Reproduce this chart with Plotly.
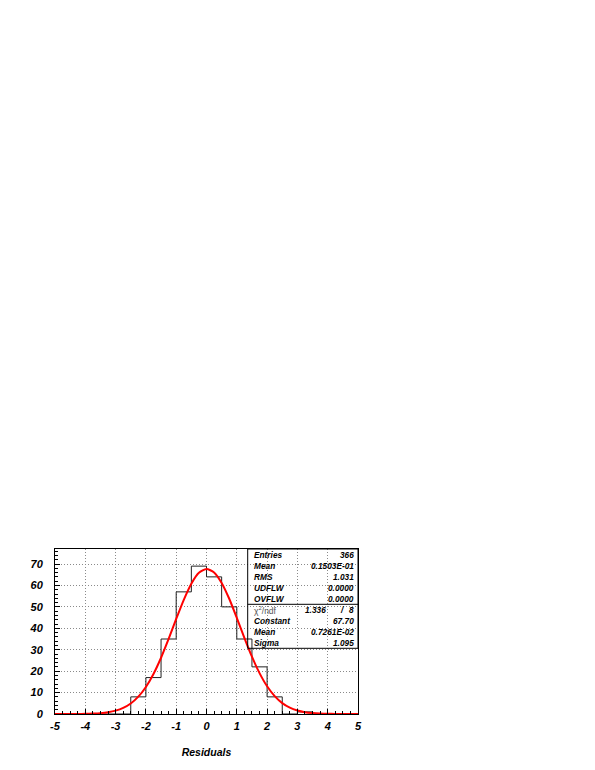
import plotly.graph_objects as go

# ---- data ----
bin_edges = [-5.0, -4.5, -4.0, -3.5, -3.0, -2.5, -2.0, -1.5, -1.0, -0.5, 0.0,
             0.5, 1.0, 1.5, 2.0, 2.5, 3.0, 3.5, 4.0, 4.5, 5.0]
bin_counts = [0, 0, 0, 0, 0, 8, 17, 35, 57, 69, 64, 50, 35, 22, 8, 0, 1, 0, 0, 0]

fit_x = [-5.0, -4.75, -4.5, -4.25, -4.0, -3.75, -3.5, -3.25, -3.0, -2.75, -2.5,
         -2.25, -2.0, -1.75, -1.5, -1.25, -1.0, -0.75, -0.5, -0.25, 0.0,
         0.25, 0.5, 0.75, 1.0, 1.25, 1.5, 1.75, 2.0, 2.25, 2.5,
         2.75, 3.0, 3.25, 3.5, 3.75, 4.0, 4.25, 4.5, 4.75, 5.0]
fit_y = [0.002, 0.005, 0.014, 0.035, 0.085, 0.19, 0.40, 0.81, 1.56, 2.84, 4.92,
         8.09, 12.61, 18.68, 26.25, 35.02, 44.35, 53.30, 60.81, 65.86, 67.69,
         66.06, 61.18, 53.79, 44.89, 35.56, 26.73, 19.08, 12.92, 8.32, 5.07,
         2.94, 1.62, 0.84, 0.42, 0.20, 0.088, 0.036, 0.014, 0.005, 0.002]

x_tickvals = [-5, -4, -3, -2, -1, 0, 1, 2, 3, 4, 5]
x_ticktext = ["-5", "-4", "-3", "-2", "-1", "0", "1", "2", "3", "4", "5"]
y_tickvals = [0, 10, 20, 30, 40, 50, 60, 70]
y_ticktext = ["0", "10", "20", "30", "40", "50", "60", "70"]

stat_labels = ["Entries", "Mean", "RMS", "UDFLW", "OVFLW"]
stat_values = ["366", "0.1503E-01", "1.031", "0.0000", "0.0000"]
chi2_label = "χ<sup>2</sup>/ndf"
chi2_value = "1.336"
ndf_value = "8"
fit_labels = ["Constant", "Mean", "Sigma"]
fit_values = ["67.70", "0.7261E-02", "1.095"]

x_title = "Residuals"

# ---- figure ----
FONT = "Liberation Sans"
fig = go.Figure()

fig.add_trace(go.Scatter(
    x=bin_edges, y=bin_counts + [bin_counts[-1]],
    mode="lines", line=dict(color="#222222", width=1, shape="hv"),
    showlegend=False, hoverinfo="skip"))

fig.add_trace(go.Scatter(
    x=fit_x, y=fit_y, mode="lines",
    line=dict(color="#ff0000", width=2, shape="spline", smoothing=0.6),
    showlegend=False, hoverinfo="skip"))

tickfont = dict(family=FONT, size=11, color="black", weight="bold", style="italic")
GRID = dict(showgrid=True, gridcolor="#8a8a8a", griddash="1px,2px", gridwidth=1)

fig.update_xaxes(
    range=[-5, 5], tickmode="array", tickvals=x_tickvals, ticktext=x_ticktext,
    showline=True, linecolor="black", linewidth=1, mirror=True,
    ticks="inside", ticklen=5, tickcolor="black",
    minor=dict(dtick=0.25, tick0=-5, ticks="inside", ticklen=3, tickcolor="black", showgrid=False),
    zeroline=False, tickfont=tickfont, ticklabelstandoff=2, automargin=False,
    title=dict(text=x_title, font=dict(family=FONT, size=10.5, color="black",
                                      weight="bold", style="italic"), standoff=17),
    **GRID,
)
fig.update_yaxes(
    range=[0, 77], tickmode="array", tickvals=y_tickvals, ticktext=y_ticktext,
    showline=True, linecolor="black", linewidth=1, mirror=True,
    ticks="inside", ticklen=5, tickcolor="black",
    minor=dict(dtick=2, tick0=0, ticks="inside", ticklen=3, tickcolor="black", showgrid=False),
    zeroline=False, tickfont=tickfont, ticklabelstandoff=9, automargin=False,
    **GRID,
)

# ---- stats box (pixel positions measured on the page, page has 8px body offset) ----
OFF = 8
L, T, H, W = 55 - OFF, 549 - OFF, 165, 303
def px(x):
    return (x - 55) / W
def py(y):
    return (549 + H - y) / H

box_x0, box_y1, box_y0, sep_y = px(247.7), py(549), py(648.3), py(604.3)
fig.add_shape(type="rect", xref="paper", yref="paper", x0=box_x0, x1=1, y0=box_y0, y1=box_y1,
              line=dict(color="black", width=1), fillcolor="rgba(0,0,0,0)")
fig.add_shape(type="line", xref="paper", yref="paper", x0=box_x0, x1=1, y0=sep_y, y1=sep_y,
              line=dict(color="black", width=1))

sfont = dict(family=FONT, size=8.3, color="black", weight="bold", style="italic")
row_y0, row_dy = 555.3, 11.0
lab_x, val_x = px(251.7), px(355.5)

for i, (lab, val) in enumerate(zip(stat_labels, stat_values)):
    yy = py(row_y0 + i * row_dy)
    fig.add_annotation(xref="paper", yref="paper", x=lab_x, y=yy, text=lab, showarrow=False,
                       xanchor="left", yanchor="middle", font=sfont)
    fig.add_annotation(xref="paper", yref="paper", x=val_x, y=yy, text=val, showarrow=False,
                       xanchor="right", yanchor="middle", font=sfont)

yy = py(row_y0 + 5 * row_dy)
fig.add_annotation(xref="paper", yref="paper", x=lab_x, y=yy, text=chi2_label, showarrow=False,
                   xanchor="left", yanchor="middle",
                   font=dict(family=FONT, size=8.5, color="#555555"))
fig.add_annotation(xref="paper", yref="paper", x=px(328), y=yy, text=chi2_value, showarrow=False,
                   xanchor="right", yanchor="middle", font=sfont)
fig.add_annotation(xref="paper", yref="paper", x=px(342), y=yy, text="/", showarrow=False,
                   xanchor="center", yanchor="middle", font=sfont)
fig.add_annotation(xref="paper", yref="paper", x=val_x, y=yy, text=ndf_value, showarrow=False,
                   xanchor="right", yanchor="middle", font=sfont)

for i, (lab, val) in enumerate(zip(fit_labels, fit_values)):
    yy = py(row_y0 + (6 + i) * row_dy)
    fig.add_annotation(xref="paper", yref="paper", x=lab_x, y=yy, text=lab, showarrow=False,
                       xanchor="left", yanchor="middle", font=sfont)
    fig.add_annotation(xref="paper", yref="paper", x=val_x, y=yy, text=val, showarrow=False,
                       xanchor="right", yanchor="middle", font=sfont)

fig.update_layout(
    width=595, height=770,
    margin=dict(l=L, r=595 - L - W, t=T, b=770 - T - H, pad=0, autoexpand=False),
    paper_bgcolor="white", plot_bgcolor="white",
    showlegend=False,
)

fig.write_html("out.html")
